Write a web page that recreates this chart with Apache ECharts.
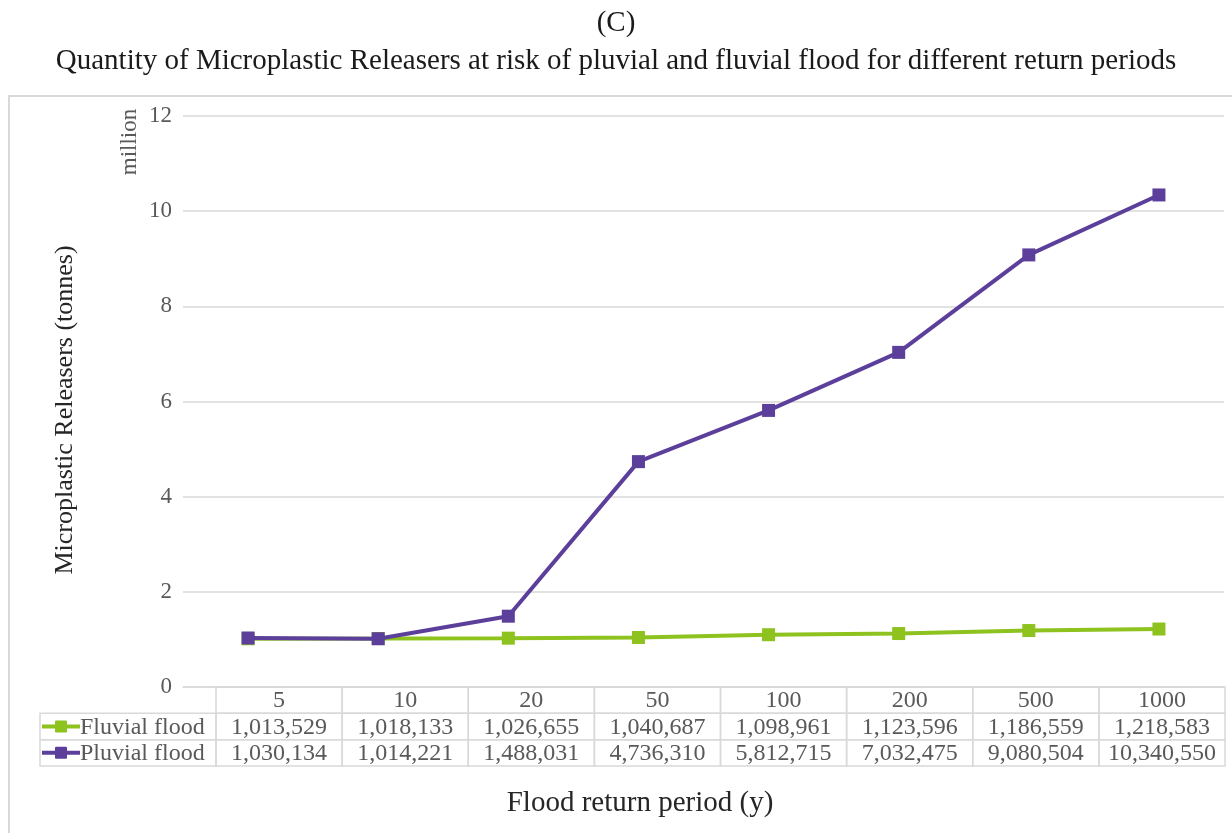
<!DOCTYPE html>
<html>
<head>
<meta charset="utf-8">
<script src="https://cdn.jsdelivr.net/npm/echarts@6/dist/echarts.min.js"></script>
<style>
html,body{margin:0;padding:0;background:#fff;}
#chart{width:1232px;height:833px;}
</style>
</head>
<body>
<div id="chart"></div>
<script>
const periods = ['5', '10', '20', '50', '100', '200', '500', '1000'];
const fluvial = [1013529, 1018133, 1026655, 1040687, 1098961, 1123596, 1186559, 1218583];
const pluvial = [1030134, 1014221, 1488031, 4736310, 5812715, 7032475, 9080504, 10340550];
const seriesNames = ['Fluvial flood', 'Pluvial flood'];
const seriesColors = ['#8DC21F', '#5B3F9B'];
const yMin = 0, yMax = 12, yInterval = 2;
const titleLines = ['(C)', 'Quantity of Microplastic Releasers at risk of pluvial and fluvial flood for different return periods'];
const xName = 'Flood return period (y)';
const yName = 'Microplastic Releasers (tonnes)';
const yUnit = 'million';

const FONT = '"Liberation Serif", "Times New Roman", serif';
const GRID = '#d9d9d9';
const TXT = '#595959';

const fmt = v => v.toLocaleString('en-US');
const rows = [fluvial, pluvial];

// table cells (col -1 = row-label column)
const cells = [];
periods.forEach((p, c) => cells.push({col: c, row: 0, text: p}));
rows.forEach((arr, r) => {
  cells.push({col: -1, row: r + 1, text: seriesNames[r], color: seriesColors[r]});
  arr.forEach((v, c) => cells.push({col: c, row: r + 1, text: fmt(v)}));
});

const LABEL_COL_W = 176;

function renderCell(params, api) {
  const cell = cells[params.dataIndex];
  const cs = params.coordSys;
  const ya = api.coord([0, cell.row]);
  const yb = api.coord([0, cell.row + 1]);
  let x0, x1;
  if (cell.col < 0) {
    x0 = cs.x - LABEL_COL_W; x1 = cs.x;
  } else {
    x0 = api.coord([cell.col, 0])[0];
    x1 = api.coord([cell.col + 1, 0])[0];
  }
  const y0 = ya[1], y1 = yb[1];
  const children = [{
    type: 'rect',
    shape: {x: x0, y: y0, width: x1 - x0, height: y1 - y0},
    style: {fill: 'none', stroke: GRID, lineWidth: 1.5}
  }];
  const ym = (y0 + y1) / 2 + 1;
  if (cell.col < 0) {
    const kx0 = x0 + 2, kx1 = x0 + 40;
    children.push({type: 'line', shape: {x1: kx0, y1: ym - 1, x2: kx1, y2: ym - 1},
      style: {stroke: cell.color, lineWidth: 4}});
    children.push({type: 'rect', shape: {x: (kx0 + kx1) / 2 - 6, y: ym - 7, width: 12, height: 12, r: 1},
      style: {fill: cell.color}});
    children.push({type: 'text', x: kx1, y: ym,
      style: {text: cell.text, fill: TXT, font: '24px ' + FONT, align: 'left', verticalAlign: 'middle',
        textAlign: 'left', textVerticalAlign: 'middle'}});
  } else {
    children.push({type: 'text', x: (x0 + x1) / 2, y: ym,
      style: {text: cell.text, fill: TXT, font: '24px ' + FONT, align: 'center', verticalAlign: 'middle',
        textAlign: 'center', textVerticalAlign: 'middle'}});
  }
  return {type: 'group', children};
}

const chart = echarts.init(document.getElementById('chart'), null, {renderer: 'canvas'});
chart.setOption({
  animation: false,
  backgroundColor: '#fff',
  title: [
    {text: titleLines[0], left: 'center', top: 4,
      textStyle: {fontFamily: FONT, fontSize: 29, fontWeight: 'normal', color: '#1a1a1a'}},
    {text: titleLines[1], left: 'center', top: 42,
      textStyle: {fontFamily: FONT, fontSize: 29, fontWeight: 'normal', color: '#1a1a1a'}}
  ],
  graphic: [
    {type: 'rect', shape: {x: 9, y: 96, width: 1240, height: 760},
      style: {fill: 'none', stroke: GRID, lineWidth: 2}, silent: true, z: -1},
    {type: 'text', x: 130, y: 142, rotation: Math.PI / 2,
      style: {text: yUnit, fill: TXT, font: '23px ' + FONT, align: 'center', verticalAlign: 'middle',
        textAlign: 'center', textVerticalAlign: 'middle'}},
    {type: 'text', x: 65, y: 410, rotation: Math.PI / 2,
      style: {text: yName, fill: '#262626', font: '26px ' + FONT, align: 'center', verticalAlign: 'middle',
        textAlign: 'center', textVerticalAlign: 'middle'}},
    {type: 'text', x: 640, y: 803,
      style: {text: xName, fill: '#262626', font: '29px ' + FONT, align: 'center', verticalAlign: 'middle',
        textAlign: 'center', textVerticalAlign: 'middle'}}
  ],
  grid: [
    {left: 183, right: 8, top: 116, bottom: 833 - 687},
    {left: 216, right: 7, top: 687, bottom: 833 - 766}
  ],
  xAxis: [
    {
      type: 'category', gridIndex: 0, data: periods, boundaryGap: true,
      axisLine: {show: true, lineStyle: {color: GRID, width: 1.5}},
      axisTick: {show: false}, axisLabel: {show: false}, splitLine: {show: false}
    },
    {type: 'value', gridIndex: 1, min: 0, max: periods.length, show: false}
  ],
  yAxis: [
    {
      type: 'value', gridIndex: 0, min: yMin, max: yMax, interval: yInterval,
      axisLine: {show: false}, axisTick: {show: false},
      axisLabel: {fontFamily: FONT, fontSize: 23, color: TXT, margin: 11},
      splitLine: {show: true, lineStyle: {color: GRID, width: 1.5}}
    },
    {type: 'value', gridIndex: 1, min: 0, max: 3, inverse: true, show: false}
  ],
  series: [
    {
      name: seriesNames[0], type: 'line', xAxisIndex: 0, yAxisIndex: 0,
      data: fluvial.map(v => v / 1e6),
      symbol: 'rect', symbolSize: 13, showSymbol: true,
      lineStyle: {color: seriesColors[0], width: 4},
      itemStyle: {color: seriesColors[0]}, z: 3
    },
    {
      name: seriesNames[1], type: 'line', xAxisIndex: 0, yAxisIndex: 0,
      data: pluvial.map(v => v / 1e6),
      symbol: 'rect', symbolSize: 13, showSymbol: true,
      lineStyle: {color: seriesColors[1], width: 4},
      itemStyle: {color: seriesColors[1]}, z: 4
    },
    {
      type: 'custom', xAxisIndex: 1, yAxisIndex: 1, silent: true,
      data: cells.map(c => [c.col, c.row]),
      renderItem: renderCell, clip: false
    }
  ]
});
</script>
</body>
</html>
